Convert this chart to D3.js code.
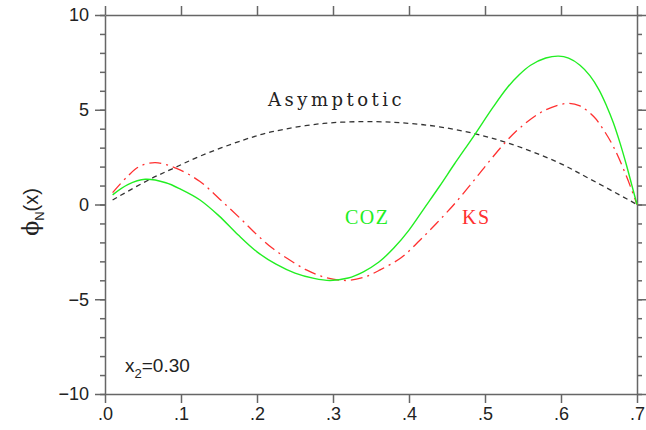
<!DOCTYPE html>
<html>
<head>
<meta charset="utf-8">
<script src="https://cdn.jsdelivr.net/npm/d3@7"></script>
<style>
  body { margin: 0; background: #fff; }
  .axis path, .axis line { stroke: #666; stroke-width: 1.5; }
  .axis text { font-family: "Liberation Sans", Arial, sans-serif; font-size: 18px; fill: #222; }
</style>
</head>
<body>
<div id="chart"></div>
<script>
// data
var coz_x = [0.01, 0.03, 0.053, 0.08, 0.10, 0.125, 0.15, 0.175, 0.20, 0.225, 0.25, 0.275, 0.296, 0.32, 0.34, 0.36, 0.38, 0.40, 0.42, 0.44, 0.46, 0.485, 0.51, 0.53, 0.545, 0.56, 0.58, 0.597, 0.61, 0.625, 0.638, 0.65, 0.66, 0.669, 0.678, 0.686, 0.693, 0.70];
var coz_y = [0.51, 1.05, 1.33, 1.15, 0.80, 0.24, -0.6, -1.6, -2.5, -3.15, -3.62, -3.9, -4.01, -3.88, -3.55, -3.05, -2.3, -1.35, -0.2, 0.95, 2.15, 3.6, 5.1, 6.2, 6.85, 7.35, 7.73, 7.83, 7.72, 7.35, 6.8, 6.05, 5.2, 4.3, 3.2, 2.1, 1.05, 0.0];

var ks_x = [0.01, 0.03, 0.045, 0.066, 0.094, 0.125, 0.151, 0.18, 0.20, 0.22, 0.24, 0.265, 0.29, 0.318, 0.34, 0.362, 0.39, 0.414, 0.436, 0.458, 0.48, 0.502, 0.525, 0.546, 0.58, 0.61, 0.625, 0.643, 0.655, 0.669, 0.686, 0.70];
var ks_y = [0.63, 1.5, 2.0, 2.21, 1.91, 1.21, 0.28, -0.81, -1.6, -2.3, -2.85, -3.45, -3.85, -4.01, -3.85, -3.45, -2.8, -1.9, -1.0, -0.05, 1.0, 2.1, 3.2, 4.05, 5.0, 5.34, 5.2, 4.64, 4.0, 3.05, 1.5, 0.0];

var asym_x = [0.01, 0.059, 0.09, 0.125, 0.182, 0.22, 0.288, 0.356, 0.40, 0.44, 0.485, 0.53, 0.594, 0.638, 0.70];
var asym_y = [0.24, 1.33, 1.91, 2.55, 3.40, 3.84, 4.28, 4.37, 4.28, 4.10, 3.75, 3.25, 2.26, 1.35, 0.0];

var x_ticks = [0, 0.1, 0.2, 0.3, 0.4, 0.5, 0.6, 0.7];
var y_ticks = [-10, -5, 0, 5, 10];
var y_minor = d3.range(-10, 11, 1);

var chart_width = 646;
var chart_height = 430;
var pad_left = 105, pad_right = 637, pad_top = 15, pad_bottom = 394;

var svg = d3.select('#chart')
  .append('svg')
  .attr('width', chart_width)
  .attr('height', chart_height);

// scales
var x_scale = d3.scaleLinear().domain([0, 0.7]).range([pad_left, pad_right]);
var y_scale = d3.scaleLinear().domain([-10, 10]).range([pad_bottom, pad_top]);

var fmt_x = (d) => d3.format('.1f')(d).replace(/^0/, '');
var fmt_y = (d) => d < 0 ? '\u2212' + Math.abs(d) : String(d);

// minor ticks on y
svg.append('g').attr('class', 'axis')
  .attr('transform', 'translate(' + pad_left + ',0)')
  .call(d3.axisLeft(y_scale).tickValues(y_minor).tickSize(5).tickFormat(''))
  .select('.domain').remove();
svg.append('g').attr('class', 'axis')
  .attr('transform', 'translate(' + pad_right + ',0)')
  .call(d3.axisRight(y_scale).tickValues(y_minor).tickSize(5).tickFormat(''))
  .select('.domain').remove();

// major axes
svg.append('g').attr('class', 'axis')
  .attr('transform', 'translate(0,' + pad_bottom + ')')
  .call(d3.axisBottom(x_scale).tickValues(x_ticks).tickSize(9).tickSizeOuter(0).tickPadding(4).tickFormat(fmt_x));
svg.append('g').attr('class', 'axis')
  .attr('transform', 'translate(0,' + pad_top + ')')
  .call(d3.axisTop(x_scale).tickValues(x_ticks).tickSize(9).tickSizeOuter(0).tickFormat(''));
svg.append('g').attr('class', 'axis')
  .attr('transform', 'translate(' + pad_left + ',0)')
  .call(d3.axisLeft(y_scale).tickValues(y_ticks).tickSize(10).tickSizeOuter(0).tickPadding(6).tickFormat(fmt_y));
svg.append('g').attr('class', 'axis')
  .attr('transform', 'translate(' + pad_right + ',0)')
  .call(d3.axisRight(y_scale).tickValues(y_ticks).tickSize(10).tickSizeOuter(0).tickFormat(''));

// lines
var line = d3.line()
  .x((d) => x_scale(d[0]))
  .y((d) => y_scale(d[1]))
  .curve(d3.curveCatmullRom.alpha(0.5));

var plot = svg.append('g');

plot.append('path')
  .datum(asym_x.map((x, i) => [x, asym_y[i]]))
  .attr('d', line)
  .attr('fill', 'none')
  .attr('stroke', '#333')
  .attr('stroke-width', 1.3)
  .attr('stroke-dasharray', '5,4');

plot.append('path')
  .datum(ks_x.map((x, i) => [x, ks_y[i]]))
  .attr('d', line)
  .attr('fill', 'none')
  .attr('stroke', '#ff3030')
  .attr('stroke-width', 1.3)
  .attr('stroke-dasharray', '12,5,2,5');

plot.append('path')
  .datum(coz_x.map((x, i) => [x, coz_y[i]]))
  .attr('d', line)
  .attr('fill', 'none')
  .attr('stroke', '#22ee22')
  .attr('stroke-width', 1.4);

// labels
svg.append('text')
  .attr('x', 268).attr('y', 106)
  .attr('font-family', '"DejaVu Serif", serif')
  .attr('font-size', 18)
  .attr('letter-spacing', 3.5)
  .attr('fill', '#222')
  .text('Asymptotic');

svg.append('text')
  .attr('x', 345).attr('y', 224)
  .attr('font-family', '"Liberation Serif", serif')
  .attr('font-size', 20)
  .attr('letter-spacing', 1.5)
  .attr('fill', '#22ee22')
  .text('COZ');

svg.append('text')
  .attr('x', 462).attr('y', 224)
  .attr('font-family', '"Liberation Serif", serif')
  .attr('font-size', 20)
  .attr('letter-spacing', 1.5)
  .attr('fill', '#ff3030')
  .text('KS');

var x2 = svg.append('text')
  .attr('x', 125).attr('y', 372)
  .attr('font-family', '"Liberation Sans", Arial, sans-serif')
  .attr('font-size', 19)
  .attr('fill', '#222');
x2.append('tspan').text('x');
x2.append('tspan').attr('dy', 6).attr('font-size', 13).text('2');
x2.append('tspan').attr('dy', -6).text('=0.30');

var ylab = svg.append('text')
  .attr('transform', 'translate(38,212) rotate(-90)')
  .attr('text-anchor', 'middle')
  .attr('font-family', '"Liberation Sans", Arial, sans-serif')
  .attr('font-size', 20)
  .attr('fill', '#222');
ylab.append('tspan').attr('font-family', '"DejaVu Serif", serif').attr('font-size', 22).text('\u03d5');
ylab.append('tspan').attr('dy', 6).attr('font-size', 13).text('N');
ylab.append('tspan').attr('dy', -6).text('(x)');
</script>
</body>
</html>
